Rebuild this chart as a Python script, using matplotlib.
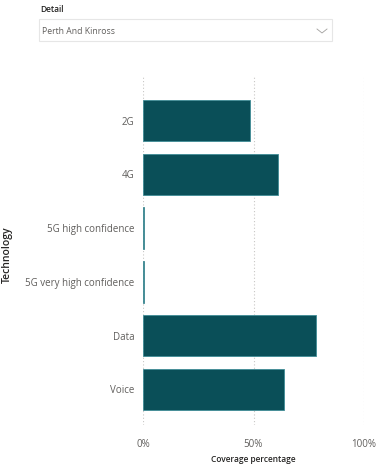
import matplotlib
matplotlib.use('Agg')
import matplotlib.pyplot as plt
from matplotlib.patches import Rectangle

# data
technologies = ['2G', '4G', '5G high confidence', '5G very high confidence', 'Data', 'Voice']
coverage = [48.5, 60.9, 0.4, 0.4, 78.3, 64.0]
xticks = [0, 50, 100]
xtick_labels = ['0%', '50%', '100%']

plt.rcParams['font.family'] = ['Open Sans', 'DejaVu Sans']

fig = plt.figure(figsize=(3.8, 4.66), dpi=100)

# slicer on top
fig.text(40/380, 1 - 10/466, 'Detail', fontsize=6, color='#252423', va='center', ha='left', weight='semibold')
fig.patches.append(Rectangle((39/380, 1 - 41/466), 293/380, 22/466, transform=fig.transFigure,
                             facecolor='white', edgecolor='#E6E6E6', lw=0.8))
fig.text(42/380, 1 - 31/466, 'Perth And Kinross', fontsize=6.2, color='#605E5C', va='center', ha='left')
fig.lines.append(plt.Line2D([317/380, 322/380, 327/380], [1 - 29/466, 1 - 33/466, 1 - 29/466],
                            transform=fig.transFigure, color='#A19F9D', lw=0.6))

ax = fig.add_axes([143/380, 1 - 425/466, 221/380, 350/466])
ax.barh(range(len(technologies)), coverage, height=0.77, color='#0A4F58', edgecolor='#3F8C96', lw=0.6)
ax.set_xlim(0, 100)
ax.set_ylim(5.66, -0.846)
ax.set_yticks(range(len(technologies)))
ax.set_yticklabels(technologies)
ax.set_xticks(xticks)
ax.set_xticklabels(xtick_labels)
ax.tick_params(length=0, labelsize=7, colors='#605E5C', pad=6)
ax.tick_params(axis='x', pad=10)
for s in ax.spines.values():
    s.set_visible(False)
ax.grid(axis='x', linestyle=(0, (1, 2)), color='#C8C6C4', lw=0.8)
ax.set_axisbelow(True)
ax.set_xlabel('Coverage percentage', fontsize=6, color='#252423', labelpad=4, weight='semibold')
ax.set_ylabel('Technology', fontsize=7.5, color='#252423', weight='semibold', va='center')
ax.yaxis.set_label_coords((7 - 143)/221, (425 - 255)/350)

fig.savefig('out.png', dpi=100)
